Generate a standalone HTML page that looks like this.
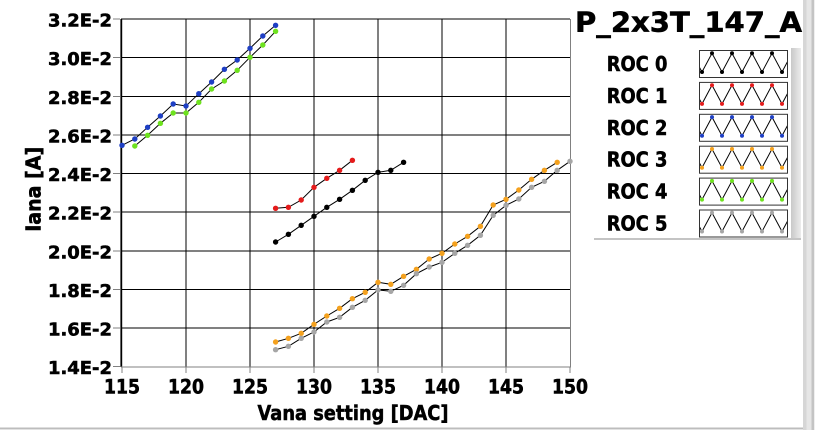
<!DOCTYPE html>
<html><head><meta charset="utf-8"><style>
html,body{margin:0;padding:0;background:#fff;width:815px;height:430px;overflow:hidden}
svg{display:block}
text{font-family:"DejaVu Sans","Liberation Sans",sans-serif;font-weight:bold;fill:#000;stroke:#000;stroke-width:0.55px}
</style></head><body>
<svg width="815" height="430" viewBox="0 0 815 430" xmlns="http://www.w3.org/2000/svg">
<rect width="815" height="430" fill="#fff"/>
<!-- right gray band -->
<rect x="803" y="0" width="12" height="430" fill="#d6d6d6"/>
<rect x="806.5" y="0" width="5" height="430" fill="#e6e6e6"/>
<rect x="811.5" y="0" width="2.5" height="430" fill="#c4c4c4"/>
<rect x="814" y="0" width="1" height="430" fill="#efefef"/>
<!-- bottom gray line -->
<rect x="0" y="427.5" width="803" height="1.5" fill="#bdbdbd"/>
<rect x="0" y="429" width="803" height="1" fill="#e2e2e2"/>

<!-- grid -->
<g stroke="#000" stroke-width="1" shape-rendering="crispEdges">
<line x1="121" y1="19" x2="570" y2="19"/>
<line x1="121" y1="57.6" x2="570" y2="57.6"/>
<line x1="121" y1="96.3" x2="570" y2="96.3"/>
<line x1="121" y1="134.9" x2="570" y2="134.9"/>
<line x1="121" y1="173.5" x2="570" y2="173.5"/>
<line x1="121" y1="212.2" x2="570" y2="212.2"/>
<line x1="121" y1="250.8" x2="570" y2="250.8"/>
<line x1="121" y1="289.4" x2="570" y2="289.4"/>
<line x1="121" y1="328.1" x2="570" y2="328.1"/>
<line x1="186" y1="19" x2="186" y2="367"/>
<line x1="250" y1="19" x2="250" y2="367"/>
<line x1="314" y1="19" x2="314" y2="367"/>
<line x1="378" y1="19" x2="378" y2="367"/>
<line x1="442" y1="19" x2="442" y2="367"/>
<line x1="506" y1="19" x2="506" y2="367"/>
</g>
<!-- axes -->
<line x1="121.3" y1="19" x2="121.3" y2="367" stroke="#000" stroke-width="1.8"/>
<g stroke="#808080" stroke-width="1" shape-rendering="crispEdges">
<line x1="121" y1="367" x2="571" y2="367"/>
<line x1="570.5" y1="19" x2="570.5" y2="367"/>
<line x1="113" y1="19" x2="120" y2="19"/>
<line x1="113" y1="57.6" x2="120" y2="57.6"/>
<line x1="113" y1="96.3" x2="120" y2="96.3"/>
<line x1="113" y1="134.9" x2="120" y2="134.9"/>
<line x1="113" y1="173.5" x2="120" y2="173.5"/>
<line x1="113" y1="212.2" x2="120" y2="212.2"/>
<line x1="113" y1="250.8" x2="120" y2="250.8"/>
<line x1="113" y1="289.4" x2="120" y2="289.4"/>
<line x1="113" y1="328.1" x2="120" y2="328.1"/>
<line x1="113" y1="366.7" x2="120" y2="366.7"/>
<line x1="122" y1="367" x2="122" y2="373"/>
<line x1="186" y1="367" x2="186" y2="373"/>
<line x1="250" y1="367" x2="250" y2="373"/>
<line x1="314" y1="367" x2="314" y2="373"/>
<line x1="378" y1="367" x2="378" y2="373"/>
<line x1="442" y1="367" x2="442" y2="373"/>
<line x1="506" y1="367" x2="506" y2="373"/>
<line x1="570" y1="367" x2="570" y2="373"/>
</g>

<!-- y tick labels -->
<g font-size="17.5" text-anchor="end">
<text x="112" y="26.5" textLength="64" lengthAdjust="spacingAndGlyphs">3.2E-2</text>
<text x="112" y="65.1" textLength="64" lengthAdjust="spacingAndGlyphs">3.0E-2</text>
<text x="112" y="103.8" textLength="64" lengthAdjust="spacingAndGlyphs">2.8E-2</text>
<text x="112" y="142.4" textLength="64" lengthAdjust="spacingAndGlyphs">2.6E-2</text>
<text x="112" y="181" textLength="64" lengthAdjust="spacingAndGlyphs">2.4E-2</text>
<text x="112" y="219.7" textLength="64" lengthAdjust="spacingAndGlyphs">2.2E-2</text>
<text x="112" y="258.3" textLength="64" lengthAdjust="spacingAndGlyphs">2.0E-2</text>
<text x="112" y="296.9" textLength="64" lengthAdjust="spacingAndGlyphs">1.8E-2</text>
<text x="112" y="335.6" textLength="64" lengthAdjust="spacingAndGlyphs">1.6E-2</text>
<text x="112" y="374.2" textLength="64" lengthAdjust="spacingAndGlyphs">1.4E-2</text>
</g>
<!-- x tick labels -->
<g font-size="19.5" text-anchor="middle">
<text x="122" y="393.3" textLength="36" lengthAdjust="spacingAndGlyphs">115</text>
<text x="186" y="393.3" textLength="36" lengthAdjust="spacingAndGlyphs">120</text>
<text x="250" y="393.3" textLength="36" lengthAdjust="spacingAndGlyphs">125</text>
<text x="314" y="393.3" textLength="36" lengthAdjust="spacingAndGlyphs">130</text>
<text x="378" y="393.3" textLength="36" lengthAdjust="spacingAndGlyphs">135</text>
<text x="442" y="393.3" textLength="36" lengthAdjust="spacingAndGlyphs">140</text>
<text x="506" y="393.3" textLength="36" lengthAdjust="spacingAndGlyphs">145</text>
<text x="570" y="393.3" textLength="36" lengthAdjust="spacingAndGlyphs">150</text>
</g>
<text x="353" y="420" font-size="20.5" text-anchor="middle" textLength="191" lengthAdjust="spacingAndGlyphs">Vana setting [DAC]</text>
<text transform="translate(40.5,189.3) rotate(-90)" font-size="20.5" text-anchor="middle" textLength="85" lengthAdjust="spacingAndGlyphs">Iana [A]</text>

<!-- series -->
<g fill="none" stroke="#000" stroke-width="1">
<polyline points="122,145.3 134.8,139 147.6,127.3 160.4,116 173.2,104 186,106 198.8,93.7 211.6,82 224.4,69.3 237.2,60 250,48.3 262.8,36 275.6,25.3"/>
<polyline points="134.8,146 147.6,135.3 160.4,123.3 173.2,113 186,113 198.8,102.3 211.6,89 224.4,81 237.2,70.3 250,57.3 262.8,45 275.6,31.3"/>
<polyline points="275.6,208.3 288.4,207.3 301.2,200 314,187.3 326.8,178.3 339.6,170.3 352.4,160.3"/>
<polyline points="275.6,242 288.4,234.3 301.2,225.3 314,216.3 326.8,207.3 339.6,199.3 352.4,190.3 365.2,180.3 378,172.3 390.8,170.3 403.6,162.3"/>
<polyline points="275.6,342 288.4,338.3 301.2,333.3 314,324.3 326.8,316 339.6,308.3 352.4,298.7 365.2,292.3 378,282.3 390.8,284.3 403.6,276.3 416.4,269.3 429.2,259 442,253.3 454.8,244 467.6,236.3 480.4,226.3 493.2,205 506,199.3 518.8,190 531.6,179.3 544.4,170.3 557.2,162.3"/>
<polyline points="275.6,349.7 288.4,346.3 301.2,338.3 314,332 326.8,322 339.6,317.3 352.4,307.3 365.2,300.3 378,290 390.8,291.3 403.6,285.3 416.4,273.7 429.2,267 442,262.3 454.8,253.3 467.6,245.3 480.4,235.3 493.2,215.3 506,205.3 518.8,199 531.6,187.3 544.4,181.3 557.2,170.3 570,161.3"/>
</g>
<g fill="#1e3fc4">
<circle cx="122" cy="145.3" r="2.7"/><circle cx="134.8" cy="139" r="2.7"/><circle cx="147.6" cy="127.3" r="2.7"/><circle cx="160.4" cy="116" r="2.7"/><circle cx="173.2" cy="104" r="2.7"/><circle cx="186" cy="106" r="2.7"/><circle cx="198.8" cy="93.7" r="2.7"/><circle cx="211.6" cy="82" r="2.7"/><circle cx="224.4" cy="69.3" r="2.7"/><circle cx="237.2" cy="60" r="2.7"/><circle cx="250" cy="48.3" r="2.7"/><circle cx="262.8" cy="36" r="2.7"/><circle cx="275.6" cy="25.3" r="2.7"/>
</g>
<g fill="#6ee21e">
<circle cx="134.8" cy="146" r="2.7"/><circle cx="147.6" cy="135.3" r="2.7"/><circle cx="160.4" cy="123.3" r="2.7"/><circle cx="173.2" cy="113" r="2.7"/><circle cx="186" cy="113" r="2.7"/><circle cx="198.8" cy="102.3" r="2.7"/><circle cx="211.6" cy="89" r="2.7"/><circle cx="224.4" cy="81" r="2.7"/><circle cx="237.2" cy="70.3" r="2.7"/><circle cx="250" cy="57.3" r="2.7"/><circle cx="262.8" cy="45" r="2.7"/><circle cx="275.6" cy="31.3" r="2.7"/>
</g>
<g fill="#e41b1b">
<circle cx="275.6" cy="208.3" r="2.7"/><circle cx="288.4" cy="207.3" r="2.7"/><circle cx="301.2" cy="200" r="2.7"/><circle cx="314" cy="187.3" r="2.7"/><circle cx="326.8" cy="178.3" r="2.7"/><circle cx="339.6" cy="170.3" r="2.7"/><circle cx="352.4" cy="160.3" r="2.7"/>
</g>
<g fill="#000">
<circle cx="275.6" cy="242" r="2.7"/><circle cx="288.4" cy="234.3" r="2.7"/><circle cx="301.2" cy="225.3" r="2.7"/><circle cx="314" cy="216.3" r="2.7"/><circle cx="326.8" cy="207.3" r="2.7"/><circle cx="339.6" cy="199.3" r="2.7"/><circle cx="352.4" cy="190.3" r="2.7"/><circle cx="365.2" cy="180.3" r="2.7"/><circle cx="378" cy="172.3" r="2.7"/><circle cx="390.8" cy="170.3" r="2.7"/><circle cx="403.6" cy="162.3" r="2.7"/>
</g>
<g fill="#f4a11e">
<circle cx="275.6" cy="342" r="2.7"/><circle cx="288.4" cy="338.3" r="2.7"/><circle cx="301.2" cy="333.3" r="2.7"/><circle cx="314" cy="324.3" r="2.7"/><circle cx="326.8" cy="316" r="2.7"/><circle cx="339.6" cy="308.3" r="2.7"/><circle cx="352.4" cy="298.7" r="2.7"/><circle cx="365.2" cy="292.3" r="2.7"/><circle cx="378" cy="282.3" r="2.7"/><circle cx="390.8" cy="284.3" r="2.7"/><circle cx="403.6" cy="276.3" r="2.7"/><circle cx="416.4" cy="269.3" r="2.7"/><circle cx="429.2" cy="259" r="2.7"/><circle cx="442" cy="253.3" r="2.7"/><circle cx="454.8" cy="244" r="2.7"/><circle cx="467.6" cy="236.3" r="2.7"/><circle cx="480.4" cy="226.3" r="2.7"/><circle cx="493.2" cy="205" r="2.7"/><circle cx="506" cy="199.3" r="2.7"/><circle cx="518.8" cy="190" r="2.7"/><circle cx="531.6" cy="179.3" r="2.7"/><circle cx="544.4" cy="170.3" r="2.7"/><circle cx="557.2" cy="162.3" r="2.7"/>
</g>
<g fill="#a6a6a6">
<circle cx="275.6" cy="349.7" r="2.7"/><circle cx="288.4" cy="346.3" r="2.7"/><circle cx="301.2" cy="338.3" r="2.7"/><circle cx="314" cy="332" r="2.7"/><circle cx="326.8" cy="322" r="2.7"/><circle cx="339.6" cy="317.3" r="2.7"/><circle cx="352.4" cy="307.3" r="2.7"/><circle cx="365.2" cy="300.3" r="2.7"/><circle cx="378" cy="290" r="2.7"/><circle cx="390.8" cy="291.3" r="2.7"/><circle cx="403.6" cy="285.3" r="2.7"/><circle cx="416.4" cy="273.7" r="2.7"/><circle cx="429.2" cy="267" r="2.7"/><circle cx="442" cy="262.3" r="2.7"/><circle cx="454.8" cy="253.3" r="2.7"/><circle cx="467.6" cy="245.3" r="2.7"/><circle cx="480.4" cy="235.3" r="2.7"/><circle cx="493.2" cy="215.3" r="2.7"/><circle cx="506" cy="205.3" r="2.7"/><circle cx="518.8" cy="199" r="2.7"/><circle cx="531.6" cy="187.3" r="2.7"/><circle cx="544.4" cy="181.3" r="2.7"/><circle cx="557.2" cy="170.3" r="2.7"/><circle cx="570" cy="161.3" r="2.7"/>
</g>

<!-- legend -->
<text x="575" y="31.7" font-size="28" textLength="227" lengthAdjust="spacingAndGlyphs">P_2x3T_147_A</text>
<defs>
<linearGradient id="sh" x1="0" x2="1" y1="0" y2="0">
<stop offset="0" stop-color="#c8c8c8"/><stop offset="1" stop-color="#ececec"/>
</linearGradient>
<clipPath id="sw"><rect x="700" y="0" width="87.5" height="27"/></clipPath>
</defs>
<rect x="791" y="48" width="10" height="192" fill="url(#sh)"/>
<rect x="594" y="238" width="207" height="2" fill="#c4c4c4"/>

<g font-size="20.5">
<text x="606.7" y="71" textLength="60.7" lengthAdjust="spacingAndGlyphs">ROC 0</text>
<text x="606.7" y="102.9" textLength="60.7" lengthAdjust="spacingAndGlyphs">ROC 1</text>
<text x="606.7" y="134.8" textLength="60.7" lengthAdjust="spacingAndGlyphs">ROC 2</text>
<text x="606.7" y="166.7" textLength="60.7" lengthAdjust="spacingAndGlyphs">ROC 3</text>
<text x="606.7" y="198.6" textLength="60.7" lengthAdjust="spacingAndGlyphs">ROC 4</text>
<text x="606.7" y="230.5" textLength="60.7" lengthAdjust="spacingAndGlyphs">ROC 5</text>
</g>

<g transform="translate(0,50)">
<g clip-path="url(#sw)"><polyline points="692,3.3 702,22 712,3.3 722,22 732,3.3 742,22 752,3.3 762,22 772,3.3 782,22 792,3.3" fill="none" stroke="#000" stroke-width="1"/>
<g fill="#000"><circle cx="702" cy="22" r="2"/><circle cx="722" cy="22" r="2"/><circle cx="742" cy="22" r="2"/><circle cx="762" cy="22" r="2"/><circle cx="782" cy="22" r="2"/><circle cx="712" cy="3.3" r="2"/><circle cx="732" cy="3.3" r="2"/><circle cx="752" cy="3.3" r="2"/><circle cx="772" cy="3.3" r="2"/></g></g>
<rect x="699.5" y="0.5" width="88" height="27" fill="none" stroke="#333" stroke-width="1"/>
</g>
<g transform="translate(0,81.9)">
<g clip-path="url(#sw)"><polyline points="692,3.3 702,22 712,3.3 722,22 732,3.3 742,22 752,3.3 762,22 772,3.3 782,22 792,3.3" fill="none" stroke="#000" stroke-width="1"/>
<g fill="#e41b1b"><circle cx="702" cy="22" r="2"/><circle cx="722" cy="22" r="2"/><circle cx="742" cy="22" r="2"/><circle cx="762" cy="22" r="2"/><circle cx="782" cy="22" r="2"/><circle cx="712" cy="3.3" r="2"/><circle cx="732" cy="3.3" r="2"/><circle cx="752" cy="3.3" r="2"/><circle cx="772" cy="3.3" r="2"/></g></g>
<rect x="699.5" y="0.5" width="88" height="27" fill="none" stroke="#333" stroke-width="1"/>
</g>
<g transform="translate(0,113.8)">
<g clip-path="url(#sw)"><polyline points="692,3.3 702,22 712,3.3 722,22 732,3.3 742,22 752,3.3 762,22 772,3.3 782,22 792,3.3" fill="none" stroke="#000" stroke-width="1"/>
<g fill="#1e3fc4"><circle cx="702" cy="22" r="2"/><circle cx="722" cy="22" r="2"/><circle cx="742" cy="22" r="2"/><circle cx="762" cy="22" r="2"/><circle cx="782" cy="22" r="2"/><circle cx="712" cy="3.3" r="2"/><circle cx="732" cy="3.3" r="2"/><circle cx="752" cy="3.3" r="2"/><circle cx="772" cy="3.3" r="2"/></g></g>
<rect x="699.5" y="0.5" width="88" height="27" fill="none" stroke="#333" stroke-width="1"/>
</g>
<g transform="translate(0,145.7)">
<g clip-path="url(#sw)"><polyline points="692,3.3 702,22 712,3.3 722,22 732,3.3 742,22 752,3.3 762,22 772,3.3 782,22 792,3.3" fill="none" stroke="#000" stroke-width="1"/>
<g fill="#f4a11e"><circle cx="702" cy="22" r="2"/><circle cx="722" cy="22" r="2"/><circle cx="742" cy="22" r="2"/><circle cx="762" cy="22" r="2"/><circle cx="782" cy="22" r="2"/><circle cx="712" cy="3.3" r="2"/><circle cx="732" cy="3.3" r="2"/><circle cx="752" cy="3.3" r="2"/><circle cx="772" cy="3.3" r="2"/></g></g>
<rect x="699.5" y="0.5" width="88" height="27" fill="none" stroke="#333" stroke-width="1"/>
</g>
<g transform="translate(0,177.6)">
<g clip-path="url(#sw)"><polyline points="692,3.3 702,22 712,3.3 722,22 732,3.3 742,22 752,3.3 762,22 772,3.3 782,22 792,3.3" fill="none" stroke="#000" stroke-width="1"/>
<g fill="#6ee21e"><circle cx="702" cy="22" r="2"/><circle cx="722" cy="22" r="2"/><circle cx="742" cy="22" r="2"/><circle cx="762" cy="22" r="2"/><circle cx="782" cy="22" r="2"/><circle cx="712" cy="3.3" r="2"/><circle cx="732" cy="3.3" r="2"/><circle cx="752" cy="3.3" r="2"/><circle cx="772" cy="3.3" r="2"/></g></g>
<rect x="699.5" y="0.5" width="88" height="27" fill="none" stroke="#333" stroke-width="1"/>
</g>
<g transform="translate(0,209.5)">
<g clip-path="url(#sw)"><polyline points="692,3.3 702,22 712,3.3 722,22 732,3.3 742,22 752,3.3 762,22 772,3.3 782,22 792,3.3" fill="none" stroke="#000" stroke-width="1"/>
<g fill="#a6a6a6"><circle cx="702" cy="22" r="2"/><circle cx="722" cy="22" r="2"/><circle cx="742" cy="22" r="2"/><circle cx="762" cy="22" r="2"/><circle cx="782" cy="22" r="2"/><circle cx="712" cy="3.3" r="2"/><circle cx="732" cy="3.3" r="2"/><circle cx="752" cy="3.3" r="2"/><circle cx="772" cy="3.3" r="2"/></g></g>
<rect x="699.5" y="0.5" width="88" height="27" fill="none" stroke="#333" stroke-width="1"/>
</g>
</svg>
</body></html>
